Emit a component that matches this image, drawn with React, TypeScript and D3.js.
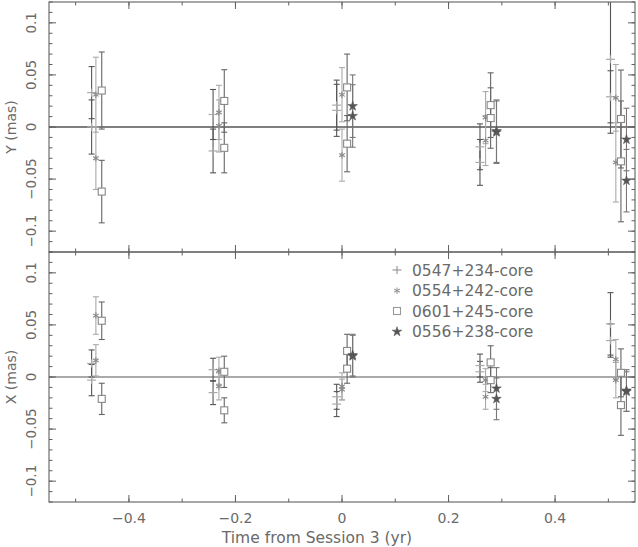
import React from "react";
import * as d3 from "d3";

// ---- data ----
const sourceNames = ["0547+234-core", "0554+242-core", "0601+245-core", "0556+238-core"];

const t0547 = [-0.470, -0.470, -0.242, -0.242, -0.010, -0.010, 0.259, 0.259, 0.504, 0.504];
const y0547 = [0.033, 0.000, 0.012, -0.023, 0.021, 0.016, -0.019, -0.034, 0.065, 0.029];
const yErr0547 = [0.025, 0.026, 0.024, 0.021, 0.024, 0.025, 0.022, 0.022, 0.071, 0.025];
const x0547 = [0.013, -0.003, 0.007, -0.015, -0.019, -0.026, 0.011, 0.005, 0.051, 0.035];
const xErr0547 = [0.013, 0.015, 0.011, 0.0115, 0.012, 0.012, 0.011, 0.010, 0.030, 0.016];

const t0554 = [-0.462, -0.462, -0.231, -0.231, 0.000, 0.000, 0.2695, 0.2695, 0.514, 0.514];
const y0554 = [0.031, -0.030, 0.014, 0.001, 0.031, -0.027, 0.009, -0.013, 0.028, -0.034];
const yErr0554 = [0.036, 0.030, 0.026, 0.025, 0.026, 0.025, 0.025, 0.024, 0.032, 0.038];
const x0554 = [0.059, 0.016, 0.006, -0.009, -0.009, -0.012, -0.003, -0.019, 0.017, -0.003];
const xErr0554 = [0.018, 0.015, 0.013, 0.013, 0.013, 0.010, 0.011, 0.012, 0.019, 0.017];

const t0601 = [-0.451, -0.451, -0.221, -0.221, 0.0096, 0.0096, 0.279, 0.279, 0.5236, 0.5236];
const y0601 = [0.035, -0.062, 0.025, -0.020, 0.038, -0.016, 0.021, 0.0086, 0.0077, -0.033];
const yErr0601 = [0.037, 0.030, 0.030, 0.024, 0.032, 0.027, 0.031, 0.029, 0.047, 0.058];
const x0601 = [0.054, -0.021, 0.005, -0.032, 0.025, 0.008, 0.014, -0.003, 0.004, -0.027];
const xErr0601 = [0.018, 0.015, 0.015, 0.012, 0.016, 0.014, 0.016, 0.012, 0.023, 0.029];

const t0556 = [0.020, 0.020, 0.290, 0.290, 0.534, 0.534];
const y0556 = [0.020, 0.0106, -0.005, -0.004, -0.012, -0.0515];
const yErr0556 = [0.030, 0.030, 0.030, 0.030, 0.030, 0.030];
const x0556 = [0.021, 0.020, -0.011, -0.021, -0.013, -0.014];
const xErr0556 = [0.020, 0.020, 0.020, 0.020, 0.020, 0.019];

const xTickLabels = [-0.4, -0.2, 0, 0.2, 0.4];
const yTickLabels = [-0.1, -0.05, 0, 0.05, 0.1];

// ---- layout ----
const W = 638;
const H = 547;
const left = 49;
const right = 635;
const top1 = 2;
const mid = 252;
const bot2 = 502;

const FONT = "'DejaVu Sans', sans-serif";
const TEXT = "#6a6a6a";
const FRAME = "#606060";

type Series = {
  name: string;
  t: number[];
  y: number[];
  yErr: number[];
  x: number[];
  xErr: number[];
  marker: string;
  barColor: string;
  markColor: string;
};

const series: Series[] = [
  { name: sourceNames[0], t: t0547, y: y0547, yErr: yErr0547, x: x0547, xErr: xErr0547, marker: "plus", barColor: "#555", markColor: "#aaa" },
  { name: sourceNames[1], t: t0554, y: y0554, yErr: yErr0554, x: x0554, xErr: xErr0554, marker: "asterisk", barColor: "#aaa", markColor: "#888" },
  { name: sourceNames[2], t: t0601, y: y0601, yErr: yErr0601, x: x0601, xErr: xErr0601, marker: "square", barColor: "#666", markColor: "#888" },
  { name: sourceNames[3], t: t0556, y: y0556, yErr: yErr0556, x: x0556, xErr: xErr0556, marker: "star", barColor: "#777", markColor: "#555" },
];

const xScale = d3.scaleLinear().domain([-0.55, 0.55]).range([left, right]);
const yTop = d3.scaleLinear().domain([-0.12, 0.12]).range([mid, top1]);
const yBot = d3.scaleLinear().domain([-0.12, 0.12]).range([bot2, mid]);

const starPath = d3.symbol().type(d3.symbolStar).size(28)() as string;

function Marker({ kind, cx, cy, color }: { kind: string; cx: number; cy: number; color: string }) {
  if (kind === "plus") {
    return (
      <g stroke={color} strokeWidth={1.2}>
        <line x1={cx - 4.5} x2={cx + 4.5} y1={cy} y2={cy} />
        <line x1={cx} x2={cx} y1={cy - 4} y2={cy + 4} />
      </g>
    );
  }
  if (kind === "asterisk") {
    const r = 3.3;
    const a = Math.PI / 6;
    return (
      <g stroke={color} strokeWidth={1.1}>
        <line x1={cx} x2={cx} y1={cy - r} y2={cy + r} />
        <line x1={cx - r * Math.cos(a)} x2={cx + r * Math.cos(a)} y1={cy - r * Math.sin(a)} y2={cy + r * Math.sin(a)} />
        <line x1={cx - r * Math.cos(a)} x2={cx + r * Math.cos(a)} y1={cy + r * Math.sin(a)} y2={cy - r * Math.sin(a)} />
      </g>
    );
  }
  if (kind === "square") {
    return <rect x={cx - 3.5} y={cy - 3.5} width={7} height={7} fill="white" stroke={color} strokeWidth={1.1} />;
  }
  return <path d={starPath} transform={`translate(${cx},${cy})`} fill={color} stroke={color} strokeWidth={0.6} />;
}

function Panel({ yScale, which, clipId }: { yScale: d3.ScaleLinear<number, number>; which: "y" | "x"; clipId: string }) {
  const [y0, y1] = yScale.range() as [number, number]; // bottom, top
  const xMajor = d3.range(-0.4, 0.41, 0.2);
  const xMinor = d3.range(-0.5, 0.51, 0.1);
  const yMajor = d3.range(-0.1, 0.101, 0.05);
  const yMinor = d3.range(-0.12, 0.121, 0.01);
  const zeroColor = which === "y" ? "#555" : "#aaa";
  const zeroWidth = which === "y" ? 1.3 : 2;
  return (
    <g>
      <clipPath id={clipId}>
        <rect x={left} y={y1} width={right - left} height={y0 - y1} />
      </clipPath>
      {/* zero line */}
      <line x1={left} x2={right} y1={yScale(0)} y2={yScale(0)} stroke={zeroColor} strokeWidth={zeroWidth} />
      {/* data */}
      <g clipPath={`url(#${clipId})`}>
        {series.map((s) =>
          s.t.map((t, i) => {
            const v = which === "y" ? s.y[i] : s.x[i];
            const e = which === "y" ? s.yErr[i] : s.xErr[i];
            const cx = xScale(t);
            const ya = yScale(v + e);
            const yb = yScale(v - e);
            return (
              <g key={s.name + i} stroke={s.barColor} strokeWidth={1.1}>
                <line x1={cx} x2={cx} y1={ya} y2={yb} />
                <line x1={cx - 3} x2={cx + 3} y1={ya} y2={ya} />
                <line x1={cx - 3} x2={cx + 3} y1={yb} y2={yb} />
              </g>
            );
          })
        )}
        {series.map((s) =>
          s.t.map((t, i) => {
            const v = which === "y" ? s.y[i] : s.x[i];
            return <Marker key={"m" + s.name + i} kind={s.marker} cx={xScale(t)} cy={yScale(v)} color={s.markColor} />;
          })
        )}
      </g>
      {/* frame */}
      <rect x={left} y={y1} width={right - left} height={y0 - y1} fill="none" stroke={FRAME} strokeWidth={1.1} />
      {/* ticks */}
      <g stroke={FRAME} strokeWidth={1}>
        {xMinor.map((v, i) => (
          <g key={"xm" + i}>
            <line x1={xScale(v)} x2={xScale(v)} y1={y0} y2={y0 - 3.5} />
            <line x1={xScale(v)} x2={xScale(v)} y1={y1} y2={y1 + 3.5} />
          </g>
        ))}
        {xMajor.map((v, i) => (
          <g key={"xM" + i}>
            <line x1={xScale(v)} x2={xScale(v)} y1={y0} y2={y0 - 7} />
            <line x1={xScale(v)} x2={xScale(v)} y1={y1} y2={y1 + 7} />
          </g>
        ))}
        {yMinor.map((v, i) => (
          <g key={"ym" + i}>
            <line x1={left} x2={left + 3.5} y1={yScale(v)} y2={yScale(v)} />
            <line x1={right} x2={right - 3.5} y1={yScale(v)} y2={yScale(v)} />
          </g>
        ))}
        {yMajor.map((v, i) => (
          <g key={"yM" + i}>
            <line x1={left} x2={left + 7} y1={yScale(v)} y2={yScale(v)} />
            <line x1={right} x2={right - 7} y1={yScale(v)} y2={yScale(v)} />
          </g>
        ))}
      </g>
      {/* y tick labels (rotated) */}
      {yTickLabels.map((v, i) => (
        <text
          key={"yl" + i}
          transform={`translate(36,${yScale(v)}) rotate(-90)`}
          textAnchor="middle"
          fontFamily={FONT}
          fontSize={13.5}
          fill={TEXT}
        >
          {v === 0 ? "0" : (v < 0 ? "\u2212" : "") + String(Math.abs(v))}
        </text>
      ))}
      <text
        transform={`translate(16,${yScale(0)}) rotate(-90)`}
        textAnchor="middle"
        fontFamily={FONT}
        fontSize={14}
        fill={TEXT}
      >
        {which === "y" ? "Y (mas)" : "X (mas)"}
      </text>
    </g>
  );
}

export default function App() {
  const legendRows = [270, 290.7, 311, 331.7];
  return (
    <svg width={W} height={H} style={{ position: "absolute", left: 0, top: 0, background: "white" }}>
      <rect width={W} height={H} fill="white" />
      <Panel yScale={yTop} which="y" clipId="clipTop" />
      <Panel yScale={yBot} which="x" clipId="clipBot" />
      {/* x tick labels */}
      {xTickLabels.map((v, i) => (
        <text key={"xl" + i} x={xScale(v)} y={523} textAnchor="middle" fontFamily={FONT} fontSize={14} fill={TEXT}>
          {v === 0 ? "0" : (v < 0 ? "\u2212" : "") + String(Math.abs(v))}
        </text>
      ))}
      <text x={317} y={543} textAnchor="middle" fontFamily={FONT} fontSize={15.5} fill={TEXT}>
        Time from Session 3 (yr)
      </text>
      {/* legend */}
      {series.map((s, i) => (
        <g key={"lg" + i}>
          <Marker kind={s.marker} cx={397} cy={legendRows[i]} color={s.marker === "star" ? "#555" : "#999"} />
          <text x={412} y={legendRows[i] + 5.5} fontFamily={FONT} fontSize={15.5} fill={TEXT}>
            {s.name}
          </text>
        </g>
      ))}
    </svg>
  );
}
